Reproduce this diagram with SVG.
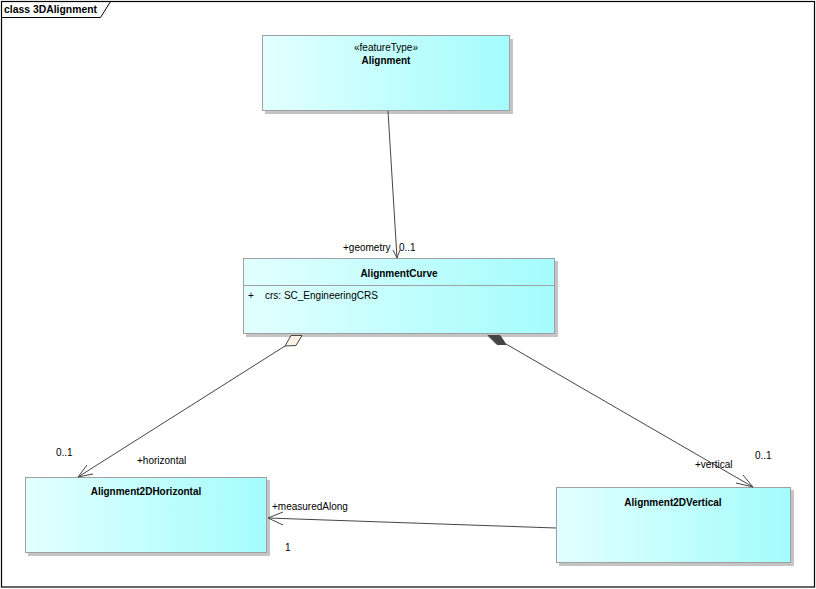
<svg xmlns="http://www.w3.org/2000/svg" width="816" height="589" viewBox="0 0 816 589">
<style>
  .frame{fill:#ffffff;stroke:#000000;stroke-width:1.2}
  .box{fill:url(#cls);stroke:#a0a0a0;stroke-width:1}
  .shadow{fill:#c4c4c4}
  .name{font-family:"Liberation Sans",Arial,sans-serif;font-size:10px;font-weight:bold;fill:#000;text-anchor:middle}
  .txt{font-family:"Liberation Sans",Arial,sans-serif;font-size:10px;fill:#000}
  .ln{fill:none;stroke:#454545;stroke-width:1}
  .div{stroke:#a0a0a0;stroke-width:1}
</style>
<defs>
  <linearGradient id="cls" x1="0" y1="0" x2="1" y2="0">
    <stop offset="0" stop-color="#e2ffff"/>
    <stop offset="1" stop-color="#a4fcfc"/>
  </linearGradient>
</defs>
<rect x="0" y="0" width="816" height="589" fill="#ffffff"/>
<rect class="frame" x="1.5" y="1.5" width="813" height="585.5"/>
<path d="M1.5,17.5 H100.5 L110.5,1.5" fill="none" stroke="#000" stroke-width="1"/>
<text class="txt" x="4" y="13" style="font-weight:bold;font-size:10.4px">class 3DAlignment</text>

<g id="Alignment">
  <rect class="shadow" x="265" y="39" width="248" height="75"/>
  <rect class="box" x="262.5" y="35.5" width="247" height="75"/>
  <text class="txt" x="386" y="51" text-anchor="middle">«featureType»</text>
  <text class="name" x="386" y="64">Alignment</text>
</g>

<g id="AlignmentCurve">
  <rect class="shadow" x="246" y="261" width="312" height="76"/>
  <rect class="box" x="243.5" y="258.5" width="311" height="75"/>
  <line class="div" x1="243.5" y1="285.5" x2="554.5" y2="285.5"/>
  <text class="name" x="399" y="277">AlignmentCurve</text>
  <text class="txt" x="248" y="299">+</text>
  <text class="txt" x="265" y="299">crs: SC_EngineeringCRS</text>
</g>

<g id="Alignment2DHorizontal">
  <rect class="shadow" x="28" y="480" width="242" height="76"/>
  <rect class="box" x="25.5" y="477.5" width="241" height="75"/>
  <text class="name" x="146" y="495">Alignment2DHorizontal</text>
</g>

<g id="Alignment2DVertical">
  <rect class="shadow" x="559" y="490" width="235" height="76"/>
  <rect class="box" x="556.5" y="487.5" width="234" height="75"/>
  <text class="name" x="673" y="506">Alignment2DVertical</text>
</g>

<g id="connectors">
  <!-- Alignment -> AlignmentCurve -->
  <line class="ln" x1="388" y1="111" x2="397" y2="258"/>
  <polyline class="ln" points="393,250 397,258 400,250"/>
  <text class="txt" x="343" y="251">+geometry</text>
  <text class="txt" x="399" y="251">0..1</text>
  <!-- aggregation to horizontal -->
  <line class="ln" x1="285" y1="346" x2="78" y2="477"/>
  <polyline class="ln" points="87,465 78,477 93,474"/>
  <polygon points="291,335.5 302,335.5 296,345.5 285,346" fill="#fbf2e4" stroke="#454545" stroke-width="1"/>
  <text class="txt" x="56" y="456">0..1</text>
  <text class="txt" x="137" y="464">+horizontal</text>
  <!-- composition to vertical -->
  <line class="ln" x1="506" y1="344" x2="753" y2="487"/>
  <polyline class="ln" points="743,475 753,487 736,483"/>
  <polygon points="488,335.5 500,335.5 506,344.5 497,344.5" fill="#454545" stroke="#454545" stroke-width="1"/>
  <text class="txt" x="695" y="468">+vertical</text>
  <text class="txt" x="755" y="459">0..1</text>
  <!-- vertical -> horizontal measuredAlong -->
  <line class="ln" x1="556" y1="528" x2="268" y2="518"/>
  <polyline class="ln" points="283,512 268,518 283,525"/>
  <text class="txt" x="272" y="510">+measuredAlong</text>
  <text class="txt" x="285" y="551">1</text>
</g>
</svg>
